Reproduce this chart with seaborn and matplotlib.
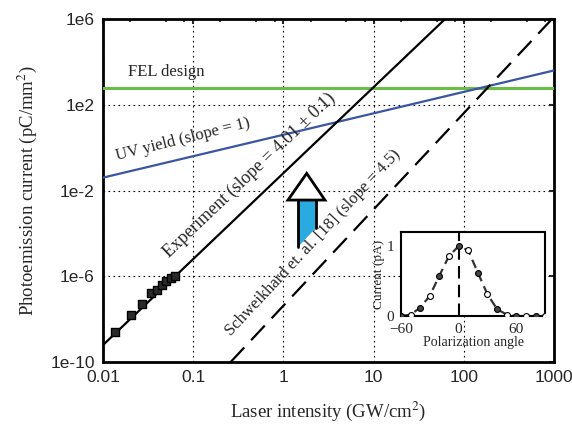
import numpy as np
import pandas as pd
import matplotlib
matplotlib.use("Agg")
import matplotlib.pyplot as plt
import seaborn as sns
from matplotlib.patches import Polygon
from matplotlib.lines import Line2D
from matplotlib.ticker import LogLocator, NullLocator, FixedLocator, FixedFormatter

# ---------------- data ----------------
exp_intensity = [0.0136, 0.0204, 0.0269, 0.0338, 0.0394, 0.0448, 0.0499, 0.0562, 0.0628]
exp_current = [2.5e-9, 1.55e-8, 5.1e-8, 1.66e-7, 2.3e-7, 3.9e-7, 6.0e-7, 8.3e-7, 1.02e-6]

fit_x = [0.01, 62.0]
fit_y = [6.2e-10, 1e6]
uv_x = [0.01, 1000.0]
uv_y = [0.04, 4000.0]
sch_x = [0.26, 950.0]
sch_y = [1e-10, 1e6]
fel_x = [0.01, 1000.0]
fel_y = [600.0, 600.0]

x_ticks = [0.01, 0.1, 1, 10, 100, 1000]
x_tick_labels = ["0.01", "0.1", "1", "10", "100", "1000"]
y_ticks = [1e-10, 1e-6, 1e-2, 1e2, 1e6]
y_tick_labels = ["1e-10", "1e-6", "1e-2", "1e2", "1e6"]

pol_angle = [-60, -50, -40, -30, -20, -10, 0, 10, 20, 30, 40, 50, 60, 70, 80, 90]
pol_current = [0.0, 0.02, 0.12, 0.29, 0.58, 0.86, 1.0, 0.94, 0.62, 0.31, 0.1, 0.02, 0.0, 0.0, 0.0, 0.0]
in_x_ticks = [-60, 0, 60]
in_y_ticks = [0, 1]

# ---------------- style ----------------
sns.set_style("white")
plt.rcParams["font.family"] = ["Liberation Serif", "DejaVu Serif"]
plt.rcParams["mathtext.fontset"] = "stix"
plt.rcParams["axes.linewidth"] = 2.0

BLUE = "#3a55a4"
GREEN = "#6cbd45"
CYAN = "#29abe2"
SANS = ["Liberation Sans", "DejaVu Sans"]

fig = plt.figure(figsize=(5.72, 4.30), dpi=100)
ax = fig.add_axes([0.180, 0.158, 0.7885, 0.7977])
ax.set_xscale("log")
ax.set_yscale("log")

sns.lineplot(x=fel_x, y=fel_y, ax=ax, color=GREEN, lw=2.2, zorder=3)
sns.lineplot(x=uv_x, y=uv_y, ax=ax, color=BLUE, lw=1.6, zorder=3)
sns.lineplot(x=sch_x, y=sch_y, ax=ax, color="black", lw=1.6,
             linestyle=(0, (9, 4.5)), zorder=3)
sns.lineplot(x=fit_x, y=fit_y, ax=ax, color="black", lw=1.6, zorder=3)
sns.scatterplot(x=exp_intensity, y=exp_current, ax=ax, marker="s", s=32,
                color="#2a2a2a", edgecolor="black", linewidth=1.0, zorder=4)

ax.set_xlim(0.01, 1000)
ax.set_ylim(1e-10, 1e6)
ax.xaxis.set_major_locator(FixedLocator(x_ticks))
ax.xaxis.set_major_formatter(FixedFormatter(x_tick_labels))
ax.xaxis.set_minor_locator(LogLocator(base=10, subs=[2, 5, 8]))
ax.yaxis.set_major_locator(FixedLocator(y_ticks))
ax.yaxis.set_major_formatter(FixedFormatter(y_tick_labels))
ax.yaxis.set_minor_locator(NullLocator())

ax.tick_params(which="major", direction="in", length=3.5, width=1.5,
               top=True, right=True, labelsize=12.5, pad=6)
ax.tick_params(which="minor", direction="in", length=2.5, width=1.2,
               top=True, right=True)
for lab in ax.get_xticklabels() + ax.get_yticklabels():
    lab.set_fontfamily(SANS)

ax.grid(True, which="major", color="black", linestyle=(0, (1.5, 3)), lw=0.8)
ax.set_axisbelow(True)
for sp in ax.spines.values():
    sp.set_color("black")
    sp.set_linewidth(2.0)

ax.set_xlabel("Laser intensity (GW/cm$^2$)", fontsize=13.5, labelpad=10)
ax.set_ylabel("Photoemission current (pC/mm$^2$)", fontsize=13.5, labelpad=8)

# ---------------- annotations ----------------
ax.text(0.019, 3400, "FEL design", fontsize=12, ha="left", va="center")
ax.text(0.077, 2.27, "UV yield (slope = 1)", fontsize=12, ha="center",
        va="center", rotation=14, rotation_mode="anchor")
ax.text(0.42, 0.05, "Experiment (slope = 4.01 \u00b1 0.1)", fontsize=13,
        ha="center", va="center", rotation=43.6, rotation_mode="anchor")
ax.text(2.13, 3.5e-5, "Schweikhard et. al. [18] (slope = 4.5)", fontsize=12,
        ha="center", va="center", rotation=46.9, rotation_mode="anchor")

# arrow (axes coordinates)
shaft = Polygon([(0.4317, 0.4723), (0.4716, 0.4723), (0.4716, 0.3907), (0.4317, 0.3344)],
                closed=True, transform=ax.transAxes, facecolor=CYAN, edgecolor="none", zorder=5)
ax.add_patch(shaft)
ax.add_line(Line2D([0.4317, 0.4317], [0.4723, 0.3344], transform=ax.transAxes,
                   color="black", lw=2.0, zorder=6))
ax.add_line(Line2D([0.4716, 0.4716], [0.4723, 0.3907], transform=ax.transAxes,
                   color="black", lw=2.0, zorder=6))
head = Polygon([(0.4102, 0.4723), (0.4922, 0.4723), (0.4517, 0.5501)], closed=True,
               transform=ax.transAxes, facecolor="white", edgecolor="black", lw=2.0,
               zorder=6, joinstyle="miter")
ax.add_patch(head)

# ---------------- inset ----------------
ax_in = fig.add_axes([0.701, 0.265, 0.252, 0.195])
ax_in.set_facecolor("white")
sns.lineplot(x=pol_angle, y=pol_current, ax=ax_in, color="#333333", lw=1.6,
             linestyle=(0, (4, 2.5)), zorder=2)
filled = pol_angle[::2]
filled_y = pol_current[::2]
open_x = pol_angle[1::2]
open_y = pol_current[1::2]
sns.scatterplot(x=filled, y=filled_y, ax=ax_in, marker="o", s=18, color="#444444",
                edgecolor="black", linewidth=0.8, zorder=3)
sns.scatterplot(x=open_x, y=open_y, ax=ax_in, marker="o", s=18, color="white",
                edgecolor="black", linewidth=0.8, zorder=3)
ax_in.axvline(0, color="black", lw=1.5, linestyle=(0, (6, 3)), zorder=2)
ax_in.set_xlim(-60, 90)
ax_in.set_ylim(0, 1.2)
ax_in.set_xticks(in_x_ticks)
ax_in.set_yticks(in_y_ticks)
ax_in.tick_params(direction="in", length=2, width=1, labelsize=11, pad=5)
for sp in ax_in.spines.values():
    sp.set_color("black")
    sp.set_linewidth(1.5)
ax_in.set_xlabel("Polarization angle", fontsize=10, labelpad=0)
ax_in.set_ylabel("Current (pA)", fontsize=9.5, labelpad=1)

fig.savefig("out.png", dpi=100)
